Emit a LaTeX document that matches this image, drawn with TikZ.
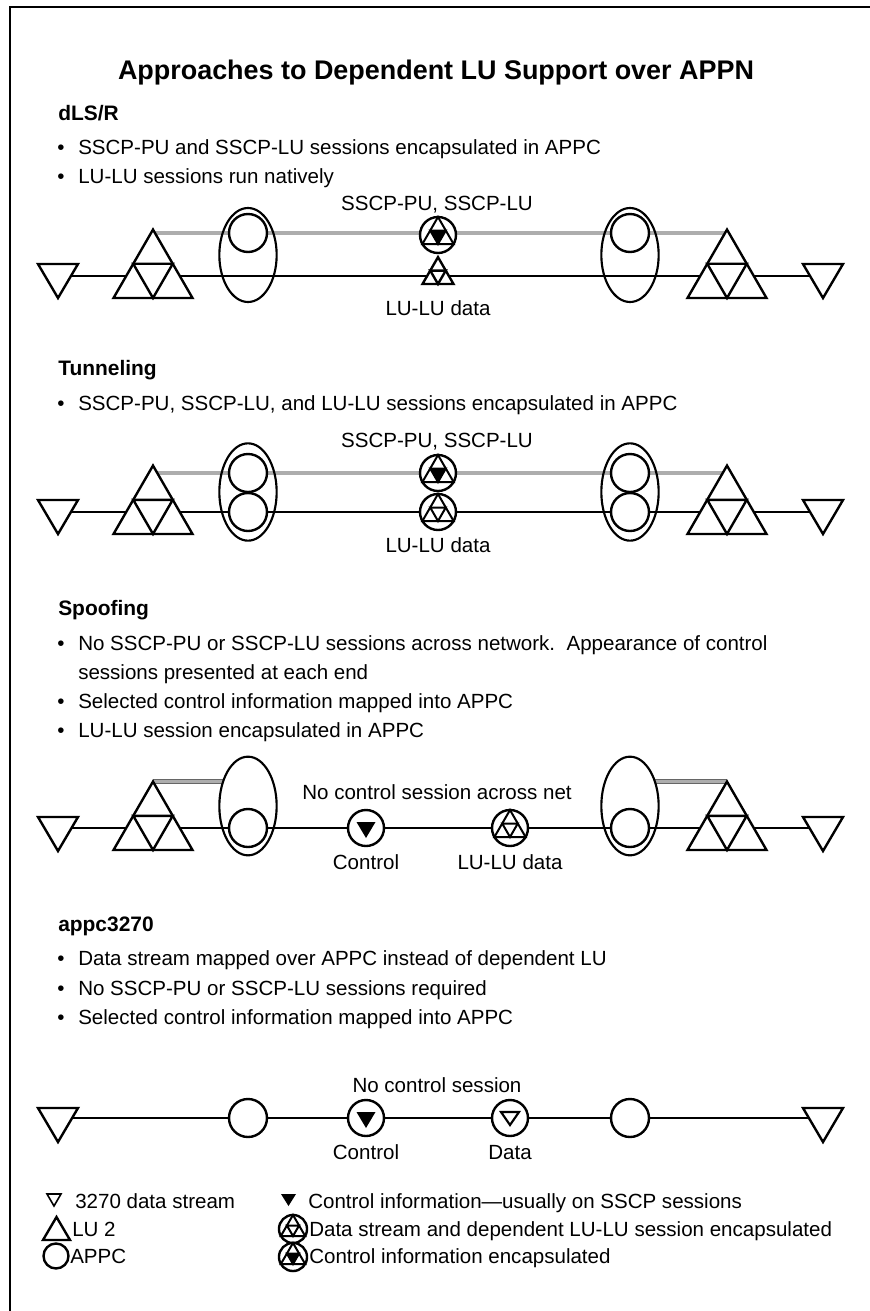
\documentclass[tikz,border=0pt]{standalone}
\usepackage{fontspec}
\setmainfont{Liberation Sans}
\usetikzlibrary{shapes.geometric}
\pgfdeclarelayer{background}
\pgfsetlayers{background,main}

\tikzset{
  shp/.style={line width=1.8pt, line join=miter, miter limit=10},
  link/.style={line width=1.5pt},
  band/.style={draw=black!60, line width=0.55pt, double=black!32, double distance=2.6pt},
  frame/.style={line width=1.5pt},
  appc/.style={circle, draw, shp, fill=white, minimum size=28.5pt, inner sep=0pt},
  pair/.style={ellipse, draw, line width=1.6pt, minimum width=43pt, inner sep=0pt},
  txt/.style={font=\fontsize{15.4}{18}\selectfont, inner sep=0pt, anchor=base west},
  lbl/.style={font=\fontsize{15.4}{18}\selectfont, inner sep=0pt, anchor=base},
  head/.style={font=\fontsize{15.7}{19}\selectfont\bfseries, inner sep=0pt, anchor=base west},
  ttlstyle/.style={font=\fontsize{20.2}{24}\selectfont\bfseries, inner sep=0pt, anchor=base},
  tfw/.store in=\tfw, tfw=79,
  % three LU triangles forming one large triangle, origin at base centre
  pics/triforce/.style={code={
    \coordinate (-apex) at (0,-0.866*\tfw);
    \draw[shp, fill=white] (-\tfw/2,0) -- (\tfw/2,0) -- (0,-0.866*\tfw) -- cycle;
    \draw[shp] (-\tfw/4,-0.433*\tfw) -- (\tfw/4,-0.433*\tfw) -- (0,0) -- cycle;
  }},
  % 3270 data stream end point, origin at centre of top edge
  pics/enddown/.style={code={
    \coordinate (-c) at (0,0);
    \draw[shp, fill=white] (-20,0) -- (20,0) -- (0,34) -- cycle;
  }},
  % session encapsulated in APPC
  pics/encap/.style={code={
    \coordinate (-c) at (0,0);
    \draw[shp, fill=white] (0,0) circle[radius=18];
    \draw[line width=1.5pt, line join=miter] (0,-18) -- (15.59,9) -- (-15.59,9) -- cycle;
    \draw[line width=1.5pt, line join=miter, fill=#1] (-7.79,-4.5) -- (7.79,-4.5) -- (0,9) -- cycle;
  }},
  pics/encap/.default=white,
  % control information
  pics/ctl/.style={code={
    \coordinate (-c) at (0,0);
    \draw[shp, fill=white] (0,0) circle[radius=18];
    \fill (-9.5,-6) -- (9.5,-6) -- (0,10) -- cycle;
  }},
  % 3270 data stream carried in APPC
  pics/dat/.style={code={
    \coordinate (-c) at (0,0);
    \draw[shp, fill=white] (0,0) circle[radius=18];
    \draw[line width=1.6pt, line join=miter] (-9,-6) -- (9,-6) -- (0,7) -- cycle;
  }},
}

\begin{document}
\begin{tikzpicture}[x=0.75pt, y=-0.75pt]
\useasboundingbox (0,0) rectangle (870,1311);
\coordinate (fb) at (10,1311);
\coordinate (fc) at (10,7);
\coordinate (fr) at (870,7);
\draw[frame] (fb) -- (fc) -- (fr);

\node[ttlstyle] (ttl) at (436,79) {Approaches to Dependent LU Support over APPN};

% ---------------- dLS/R ----------------
\node[head] (h1) at (58,120) {dLS/R};
\node[txt] (b1a) at (57,154) {•};
\node[txt] (t1a) at (78,154) {SSCP-PU and SSCP-LU sessions encapsulated in APPC};
\node[txt] (b1b) at (57,183) {•};
\node[txt] (t1b) at (78,183) {LU-LU sessions run natively};

\coordinate (dL) at (58,276);
\coordinate (dR) at (823,276);
\pic (dT1) at (58,264) {enddown};
\pic (dT2) at (823,264) {enddown};
\pic (dF1) at (153,298) {triforce};
\pic (dF2) at (727,298) {triforce};
\node[pair, minimum height=70.5pt] (dE1) at (248,255) {};
\node[pair, minimum height=70.5pt] (dE2) at (630,255) {};
\node[appc] (dA1) at (248,233) {};
\node[appc] (dA2) at (630,233) {};
\pic (dX) at (438,235) {encap=black};
\pic[tfw=31] (dS) at (438,284) {triforce};
\node[lbl] (dl1) at (437,210) {SSCP-PU, SSCP-LU};
\node[lbl] (dl2) at (438,315) {LU-LU data};

% ---------------- Tunneling ----------------
\node[head] (h2) at (58,375) {Tunneling};
\node[txt] (b2a) at (57,410) {•};
\node[txt] (t2a) at (78,410) {SSCP-PU, SSCP-LU, and LU-LU sessions encapsulated in APPC};

\coordinate (tL) at (58,512);
\coordinate (tR) at (823,512);
\pic (tT1) at (58,500) {enddown};
\pic (tT2) at (823,500) {enddown};
\pic (tF1) at (153,534) {triforce};
\pic (tF2) at (727,534) {triforce};
\node[pair, minimum height=73pt] (tE1) at (248,492) {};
\node[pair, minimum height=73pt] (tE2) at (630,492) {};
\node[appc] (tA1) at (248,473) {};
\node[appc] (tB1) at (248,512) {};
\node[appc] (tA2) at (630,473) {};
\node[appc] (tB2) at (630,512) {};
\pic (tX) at (438,473) {encap=black};
\pic (tY) at (438,512) {encap};
\node[lbl] (tl1) at (437,447) {SSCP-PU, SSCP-LU};
\node[lbl] (tl2) at (438,552) {LU-LU data};

% ---------------- Spoofing ----------------
\node[head] (h3) at (58,615) {Spoofing};
\node[txt] (b3a) at (57,650) {•};
\node[txt] (t3a) at (78,650) {No SSCP-PU or SSCP-LU sessions across network.\ \ Appearance of control};
\node[txt] (t3b) at (78,679) {sessions presented at each end};
\node[txt] (b3c) at (57,708) {•};
\node[txt] (t3c) at (78,708) {Selected control information mapped into APPC};
\node[txt] (b3d) at (57,737) {•};
\node[txt] (t3d) at (78,737) {LU-LU session encapsulated in APPC};

\coordinate (sL) at (58,828);
\coordinate (sR) at (823,828);
\pic (sT1) at (58,817) {enddown};
\pic (sT2) at (823,817) {enddown};
\pic (sF1) at (153,850) {triforce};
\pic (sF2) at (727,850) {triforce};
\node[pair, minimum height=74pt] (sE1) at (248,806) {};
\node[pair, minimum height=74pt] (sE2) at (630,806) {};
\node[appc] (sA1) at (248,828) {};
\node[appc] (sA2) at (630,828) {};
\pic (sC) at (366,828) {ctl};
\pic (sY) at (510,828) {encap};
\node[lbl] (sl0) at (437,799) {No control session across net};
\node[lbl] (sl1) at (366,869) {Control};
\node[lbl] (sl2) at (510,869) {LU-LU data};

% ---------------- appc3270 ----------------
\node[head] (h4) at (58,931) {appc3270};
\node[txt] (b4a) at (57,965) {•};
\node[txt] (t4a) at (78,965) {Data stream mapped over APPC instead of dependent LU};
\node[txt] (b4b) at (57,995) {•};
\node[txt] (t4b) at (78,995) {No SSCP-PU or SSCP-LU sessions required};
\node[txt] (b4c) at (57,1024) {•};
\node[txt] (t4c) at (78,1024) {Selected control information mapped into APPC};

\coordinate (aL) at (58,1118);
\coordinate (aR) at (823,1118);
\pic (aT1) at (58,1108) {enddown};
\pic (aT2) at (823,1108) {enddown};
\node[appc] (aA1) at (248,1118) {};
\node[appc] (aA2) at (630,1118) {};
\pic (aC) at (366,1118) {ctl};
\pic (aD) at (510,1118) {dat};
\node[lbl] (al0) at (437,1092) {No control session};
\node[lbl] (al1) at (366,1159) {Control};
\node[lbl] (al2) at (510,1159) {Data};

% ---------------- key ----------------
\draw[line width=1.2pt, line join=miter] (47,1194) -- (61,1194) -- (54,1206) -- cycle;
\node[txt] (k1) at (75,1208) {3270 data stream};
\fill (281,1194) -- (296,1194) -- (288.5,1206) -- cycle;
\node[txt] (k2) at (308,1208) {Control information—usually on SSCP sessions};
\draw[shp] (43,1240) -- (70,1240) -- (56.5,1217) -- cycle;
\node[txt] (k3) at (72,1236) {LU 2};
\pic[scale=0.78] (kY) at (293,1229) {encap};
\node[txt] (k4) at (309,1236) {Data stream and dependent LU-LU session encapsulated};
\node[circle, draw, shp, minimum size=18.75pt, inner sep=0pt] (kA) at (56,1256) {};
\node[txt] (k5) at (70,1263) {APPC};
\pic[scale=0.78] (kX) at (293,1257) {encap=black};
\node[txt] (k6) at (309,1263) {Control information encapsulated};

% ---------------- sessions behind the symbols ----------------
\begin{pgfonlayer}{background}
  \draw[link] (dL) -- (dR);
  \draw[band] (dF1-apex |- dA1) -- (dF2-apex |- dA2);
  \draw[link] (tL) -- (tR);
  \draw[band] (tF1-apex |- tA1) -- (tF2-apex |- tA2);
  \draw[link] (sL) -- (sR);
  \draw[band] (sF1-apex) -- (sE1.133 |- sF1-apex);
  \draw[band] (sE2.47 |- sF2-apex) -- (sF2-apex);
  \draw[link] (aL) -- (aR);
\end{pgfonlayer}
\end{tikzpicture}
\end{document}
